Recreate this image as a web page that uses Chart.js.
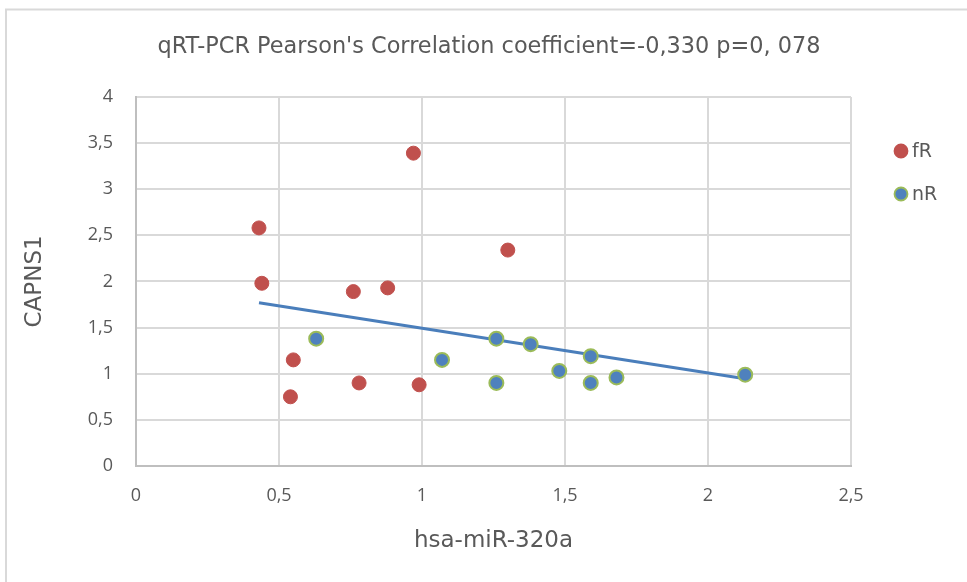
<!DOCTYPE html>
<html>
<head>
<meta charset="utf-8">
<script src="https://cdn.jsdelivr.net/npm/chart.js@4/dist/chart.umd.min.js"></script>
<style>
  html, body { margin: 0; padding: 0; background: #fff; }
  #wrap { width: 967px; height: 582px; position: relative; }
</style>
</head>
<body>
<div id="wrap"><canvas id="c" width="967" height="582"></canvas></div>
<script>
// ---- data ----
const titleText = "qRT-PCR Pearson's Correlation coefficient=-0,330 p=0, 078";
const xAxisTitle = "hsa-miR-320a";
const yAxisTitle = "CAPNS1";
const seriesNames = ["fR", "nR"];

const fR_x = [0.43, 0.44, 0.97, 1.30, 0.76, 0.88, 0.55, 0.54, 0.78, 0.99];
const fR_y = [2.58, 1.98, 3.39, 2.34, 1.89, 1.93, 1.15, 0.75, 0.90, 0.88];

const nR_x = [0.63, 1.07, 1.26, 1.26, 1.38, 1.48, 1.59, 1.59, 1.68, 2.13];
const nR_y = [1.38, 1.15, 1.38, 0.90, 1.32, 1.03, 1.19, 0.90, 0.96, 0.99];

// linear trendline endpoints as drawn
const trend_x = [0.43, 2.13];
const trend_y = [1.77, 0.945];

const xTickLabels = ["0", "0,5", "1", "1,5", "2", "2,5"];
const yTickLabels = ["0", "0,5", "1", "1,5", "2", "2,5", "3", "3,5", "4"];

const toPts = (xs, ys) => xs.map((x, i) => ({ x: x, y: ys[i] }));

const TFONT = "'DejaVu Sans', sans-serif";
const KFONT = "'Open Sans', sans-serif";
const TXT = '#595959';

const legendPlugin = {
  id: 'sideLegend',
  afterDraw(chart) {
    const ctx = chart.ctx;
    const items = [
      { name: seriesNames[0], fill: '#c0504d', stroke: '#c0504d', y: 151 },
      { name: seriesNames[1], fill: '#4f81bd', stroke: '#9bbb59', y: 194 }
    ];
    ctx.save();
    items.forEach(it => {
      ctx.beginPath();
      ctx.arc(901, it.y, 6.5, 0, Math.PI * 2);
      ctx.fillStyle = it.fill;
      ctx.fill();
      ctx.lineWidth = 1.8;
      ctx.strokeStyle = it.stroke;
      ctx.stroke();
      ctx.fillStyle = TXT;
      ctx.font = "19px " + TFONT;
      ctx.textAlign = 'left';
      ctx.textBaseline = 'middle';
      ctx.fillText(it.name, 912, it.y + 1);
    });
    ctx.restore();
  }
};

const borderPlugin = {
  id: 'outerBorder',
  afterDraw(chart) {
    const ctx = chart.ctx;
    ctx.save();
    ctx.strokeStyle = '#d9d9d9';
    ctx.lineWidth = 2;
    ctx.strokeRect(6, 9.5, 1200, 1200);
    ctx.restore();
  }
};

new Chart(document.getElementById('c'), {
  type: 'scatter',
  data: {
    datasets: [
      {
        label: seriesNames[0],
        data: toPts(fR_x, fR_y),
        backgroundColor: '#c0504d',
        borderColor: '#c0504d',
        borderWidth: 1,
        pointRadius: 7,
        order: 2
      },
      {
        label: seriesNames[1],
        data: toPts(nR_x, nR_y),
        backgroundColor: '#4f81bd',
        borderColor: '#9bbb59',
        borderWidth: 2,
        pointRadius: 7,
        order: 1
      },
      {
        label: 'trend',
        type: 'line',
        data: toPts(trend_x, trend_y),
        borderColor: '#4a7ebb',
        borderWidth: 3,
        pointRadius: 0,
        fill: false,
        order: 3
      }
    ]
  },
  options: {
    responsive: false,
    animation: false,
    events: [],
    layout: { padding: { left: 11, right: 0, top: 0, bottom: 0 } },
    plugins: {
      legend: { display: false },
      tooltip: { enabled: false },
      title: {
        display: true,
        text: titleText,
        color: TXT,
        font: { family: TFONT, size: 22.4, weight: 'normal' },
        padding: { top: 34, bottom: 36 }
      }
    },
    scales: {
      x: {
        type: 'linear',
        min: 0, max: 2.5,
        afterFit: s => { s.height = 116; },
        ticks: {
          stepSize: 0.5,
          color: TXT,
          font: { family: KFONT, size: 18 },
          padding: 19,
          maxRotation: 0,
          callback: (v) => xTickLabels[Math.round(v / 0.5)]
        },
        grid: { color: '#d9d9d9', lineWidth: 2, drawTicks: false },
        border: { color: '#bfbfbf', width: 2 },
        title: {
          display: true,
          text: xAxisTitle,
          color: TXT,
          font: { family: TFONT, size: 23 },
          padding: { top: 0, bottom: 27 }
        }
      },
      y: {
        type: 'linear',
        min: 0, max: 4,
        afterFit: s => { s.width = 125; },
        ticks: {
          stepSize: 0.5,
          color: TXT,
          font: { family: KFONT, size: 18 },
          padding: 23,
          callback: (v) => yTickLabels[Math.round(v / 0.5)]
        },
        grid: { color: '#d9d9d9', lineWidth: 2, drawTicks: false },
        border: { color: '#bfbfbf', width: 2 },
        title: {
          display: true,
          text: yAxisTitle,
          color: TXT,
          font: { family: TFONT, size: 23 },
          padding: { top: 10, bottom: 0 }
        }
      },
      yRightSpace: {
        type: 'linear',
        position: 'right',
        min: 0, max: 4,
        afterFit: s => { s.width = 116; },
        ticks: { display: false },
        grid: { display: false, drawTicks: false },
        border: { display: false }
      }
    }
  },
  plugins: [legendPlugin, borderPlugin]
});
</script>
</body>
</html>
